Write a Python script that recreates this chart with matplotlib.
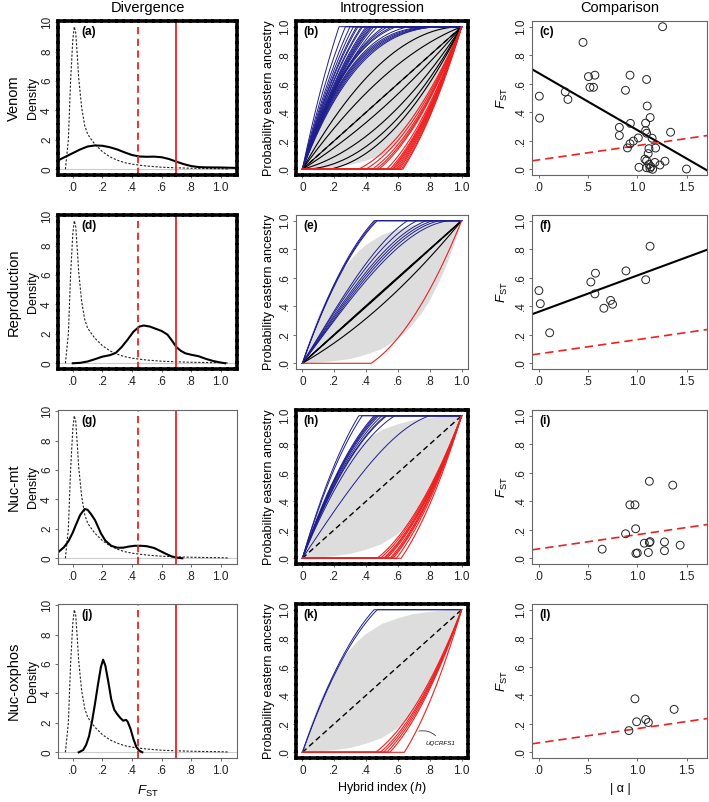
import numpy as np
import matplotlib.pyplot as plt

plt.rcParams['font.family'] = ['Liberation Sans', 'DejaVu Sans']
plt.rcParams['mathtext.fontset'] = 'custom'
plt.rcParams['mathtext.rm'] = 'Liberation Sans'
plt.rcParams['mathtext.it'] = 'Liberation Sans:italic'

# --- Divergence: density of FST ---
gw_x = [-0.05, -0.03, -0.015, 0.0, 0.01, 0.02, 0.03, 0.04, 0.06, 0.08, 0.10, 0.12,
        0.15, 0.20, 0.25, 0.30, 0.35, 0.40, 0.45, 0.50, 0.60, 0.70, 0.80, 0.90, 1.00, 1.05]
gw_y = [0.0, 2.0, 6.0, 8.8, 9.7, 9.3, 7.8, 6.2, 4.2, 3.0, 2.4, 2.1,
        1.7, 1.2, 0.85, 0.62, 0.45, 0.35, 0.28, 0.22, 0.14, 0.10, 0.07, 0.05, 0.04, 0.02]

venom_x = [-0.10, -0.05, 0.0, 0.05, 0.10, 0.15, 0.20, 0.25, 0.30, 0.35, 0.40, 0.45,
           0.50, 0.55, 0.60, 0.65, 0.70, 0.75, 0.80, 0.85, 0.90, 1.00, 1.11]
venom_y = [0.6, 0.85, 1.1, 1.35, 1.55, 1.62, 1.6, 1.5, 1.35, 1.15, 0.97, 0.87,
           0.85, 0.86, 0.82, 0.7, 0.52, 0.35, 0.22, 0.15, 0.13, 0.12, 0.09]

repro_x = [0.0, 0.05, 0.10, 0.15, 0.20, 0.25, 0.29, 0.33, 0.37, 0.41, 0.45, 0.48, 0.52,
           0.56, 0.60, 0.64, 0.67, 0.70, 0.73, 0.76, 0.80, 0.85, 0.90, 0.95, 1.00, 1.03]
repro_y = [0.0, 0.03, 0.12, 0.28, 0.45, 0.55, 0.7, 1.1, 1.6, 2.15, 2.5, 2.57, 2.5,
           2.35, 2.2, 1.95, 1.55, 1.1, 0.85, 0.68, 0.58, 0.48, 0.3, 0.15, 0.05, 0.0]

nucmt_x = [-0.10, -0.06, -0.03, 0.0, 0.02, 0.05, 0.08, 0.10, 0.12, 0.15, 0.19, 0.22, 0.26,
           0.30, 0.34, 0.38, 0.42, 0.46, 0.50, 0.55, 0.59, 0.63, 0.67, 0.70, 0.74]
nucmt_y = [0.4, 0.75, 1.15, 1.75, 2.25, 2.95, 3.35, 3.3, 3.05, 2.6, 1.7, 1.2, 0.85,
           0.72, 0.72, 0.8, 0.85, 0.85, 0.82, 0.7, 0.5, 0.3, 0.12, 0.05, 0.0]

oxphos_x = [0.04, 0.07, 0.09, 0.11, 0.13, 0.15, 0.17, 0.19, 0.205, 0.22, 0.24, 0.26,
            0.28, 0.30, 0.32, 0.34, 0.36, 0.37, 0.39, 0.41, 0.43, 0.45, 0.47]
oxphos_y = [0.0, 0.15, 0.5, 1.1, 2.1, 3.3, 4.6, 5.8, 6.3, 5.9, 4.8, 3.6,
            2.9, 2.6, 2.35, 2.15, 2.2, 2.1, 1.6, 0.9, 0.35, 0.1, 0.0]

fst_outlier = 0.44   # red dashed
fst_mito = 0.70      # red solid

# --- Introgression: neutral envelope and cline parameters (alpha, beta) ---
env_up_x = [0.0, 0.02, 0.05, 0.10, 0.15, 0.20, 0.25, 0.30, 0.35, 0.40, 0.50, 0.60, 0.70, 0.80, 0.90, 1.0]
env_up_y = [0.0, 0.08, 0.18, 0.33, 0.45, 0.56, 0.65, 0.72, 0.78, 0.83, 0.90, 0.94, 0.97, 0.985, 0.995, 1.0]
env_lo_x = [0.0, 0.10, 0.20, 0.30, 0.40, 0.50, 0.60, 0.65, 0.70, 0.75, 0.80, 0.85, 0.90, 0.95, 0.98, 1.0]
env_lo_y = [0.0, 0.005, 0.015, 0.03, 0.06, 0.10, 0.17, 0.22, 0.28, 0.35, 0.44, 0.55, 0.67, 0.82, 0.92, 1.0]

venom_blue_a = [2.17, 1.85, 1.67, 1.56, 1.47, 1.43, 1.35, 1.32, 1.25, 1.22, 1.19, 1.16,
                1.14, 1.11, 1.06, 0.98, 0.95, 0.92, 0.90, 0.85, 0.78, 0.76, 0.80, 0.74, 0.82]
venom_blue_b = [0, 0, 0, 0, 0, 0, 0, 0, 0, 0, 0, 0,
                0, 0, 0, -0.2, -0.25, -0.28, -0.3, -0.3, -0.28, -0.25, -0.30, -0.22, -0.32]
venom_black_a = [0.5, 0.28, 0.0, -0.15, -0.35, -0.5, -0.6]
venom_red_a = [-0.77, -0.83, -0.89, -0.93, -0.96, -1.06, -1.11, -1.14, -1.16, -1.19,
               -1.22, -1.25, -1.28, -1.32, -1.35]

repro_blue_a = [1.11, 1.087, 1.064, 0.676, 0.604, 0.537, 0.494, 0.453, 0.407]
repro_blue_b = [0, 0, 0, 0.255, 0.206, 0.186, 0.181, 0.179, 0.162]
repro_black_a = [0.0, 0.01, -0.01, -0.18]
repro_red_a = [-0.88]

nucmt_blue_a = [1.41, 1.33, 1.11, 1.087, 1.064, 1.04, 1.0, 0.96, 0.943, 0.862, 0.516]
nucmt_blue_b = [0, 0, 0, 0, 0, 0, 0, 0, 0, 0, 0.18]
nucmt_red_a = [-0.943, -0.98, -1.02, -1.04, -1.064, -1.11, -1.136, -1.163, -1.22, -1.316]

oxphos_blue_a = [1.11, 1.064]
oxphos_red_a = [-0.926, -0.98, -1.02, -1.064, -1.11, -1.389]

# --- Comparison: |alpha| vs FST ---
venom_alpha = [0.007, 0.01, 0.27, 0.297, 0.45, 1.256, 0.505, 0.57, 0.52, 0.556, 0.926, 1.094,
               0.88, 1.10, 1.13, 1.084, 0.93, 0.818, 0.818, 1.084, 1.094, 1.337, 1.15, 0.926,
               0.96, 1.01, 0.90, 1.118, 1.185, 1.077, 1.094, 1.11, 1.118, 1.138, 1.155, 1.094,
               1.178, 1.229, 1.28, 1.017, 1.498, 1.128]
venom_fst = [0.513, 0.359, 0.543, 0.49, 0.89, 1.0, 0.65, 0.66, 0.575, 0.575, 0.66, 0.63,
             0.554, 0.444, 0.363, 0.324, 0.322, 0.294, 0.237, 0.271, 0.253, 0.26, 0.218, 0.179,
             0.198, 0.22, 0.15, 0.145, 0.149, 0.071, 0.06, 0.11, 0.034, 0.018, 0.0, 0.011,
             0.048, 0.03, 0.057, 0.014, 0.002, 0.007]
repro_alpha = [0.003, 0.017, 0.112, 0.529, 0.576, 0.57, 0.661, 0.729, 0.749, 0.885, 1.085, 1.129]
repro_fst = [0.51, 0.418, 0.214, 0.57, 0.632, 0.487, 0.386, 0.441, 0.414, 0.648, 0.586, 0.821]
nucmt_alpha = [0.644, 0.881, 0.925, 0.976, 0.983, 0.986, 1.0, 1.071, 1.112, 1.122, 1.129,
               1.122, 1.275, 1.275, 1.359, 1.434]
nucmt_fst = [0.064, 0.172, 0.375, 0.375, 0.207, 0.034, 0.037, 0.106, 0.041, 0.11, 0.117,
             0.54, 0.115, 0.053, 0.513, 0.092]
oxphos_alpha = [0.915, 0.976, 0.993, 1.085, 1.112, 1.373]
oxphos_fst = [0.152, 0.375, 0.214, 0.23, 0.209, 0.301]

venom_fit = (0.675, -0.40)
repro_fit = (0.361, 0.255)
null_fit = (0.066, 0.10)

row_names = ['Venom', 'Reproduction', 'Nuc-mt', 'Nuc-oxphos']
letters = ['a', 'b', 'c', 'd', 'e', 'f', 'g', 'h', 'i', 'j', 'k', 'l']
dashed_box = {'a', 'b', 'd', 'h', 'k'}

W, H = 709, 802
fig = plt.figure(figsize=(W / 100, H / 100), dpi=100)

def rect(x0, x1, top, hgt):
    return [x0 / W, 1 - (top + hgt) / H, (x1 - x0) / W, hgt / H]

row_tops = [21, 215, 410, 604]
row_h = 154
cols = [(58, 237), (296, 468), (532, 707)]

h = np.linspace(0, 1, 301)

def cline(a, b=0.0):
    return np.clip(h + 2 * (h - h ** 2) * (a + b * (2 * h - 1)), 0, 1)

def style(ax, letter, lx):
    ax.tick_params(direction='out', length=2.5, width=0.6, color='#555',
                   labelsize=8.5, labelcolor='#222')
    ax.tick_params(axis='x', pad=2.5)
    ax.tick_params(axis='y', pad=1.0, labelrotation=90)
    for lb in ax.get_yticklabels():
        lb.set_va('center')
    if letter in dashed_box:
        for sp in ax.spines.values():
            sp.set_linestyle((0, (1.6, 0.45)))
            sp.set_linewidth(2.6)
            sp.set_color('black')
    else:
        for sp in ax.spines.values():
            sp.set_linewidth(0.8)
            sp.set_color('#666')
    ax.text(lx, 0.93, '(' + letter + ')', transform=ax.transAxes,
            fontsize=8.5, fontweight='bold', va='center', ha='left')

dens = [(venom_x, venom_y), (repro_x, repro_y), (nucmt_x, nucmt_y), (oxphos_x, oxphos_y)]
clines = [
    (venom_blue_a, venom_blue_b, venom_black_a, venom_red_a),
    (repro_blue_a, repro_blue_b, repro_black_a, repro_red_a),
    (nucmt_blue_a, nucmt_blue_b, [], nucmt_red_a),
    (oxphos_blue_a, [0] * len(oxphos_blue_a), [], oxphos_red_a),
]
scat = [(venom_alpha, venom_fst), (repro_alpha, repro_fst),
        (nucmt_alpha, nucmt_fst), (oxphos_alpha, oxphos_fst)]
fits = [venom_fit, repro_fit, None, None]

blue = '#1f1f8c'
red = '#ee2020'

for r in range(4):
    top = row_tops[r]
    # divergence
    ax = fig.add_axes(rect(cols[0][0], cols[0][1], top, row_h))
    ax.axhline(0, color='#cccccc', lw=0.8, zorder=1)
    ax.plot(gw_x, gw_y, color='#222', lw=0.8, ls=(0, (2, 1.5)))
    ax.plot(dens[r][0], dens[r][1], color='black', lw=1.5)
    ax.axvline(fst_outlier, color=red, lw=1.3, ls=(0, (4, 2.5)))
    ax.axvline(fst_mito, color=red, lw=1.3)
    ax.set_xlim(-0.1, 1.11)
    ax.set_ylim(-0.39, 10.09)
    ax.set_xticks([0, 0.2, 0.4, 0.6, 0.8, 1.0])
    ax.set_xticklabels(['.0', '.2', '.4', '.6', '.8', '1.0'])
    ax.set_yticks([0, 2, 4, 6, 8, 10])
    style(ax, letters[3 * r], 0.13)
    ymid = 1 - (top + row_h / 2) / H
    fig.text(14 / W, ymid, row_names[r], rotation=90, fontsize=10.5, ha='center', va='center')
    fig.text(33 / W, ymid, 'Density', rotation=90, fontsize=9, ha='center', va='center')

    # introgression
    ax = fig.add_axes(rect(cols[1][0], cols[1][1], top, row_h))
    ax.fill(env_up_x + env_lo_x[::-1], env_up_y + env_lo_y[::-1],
            color='#dddddd', lw=0, zorder=1)
    ba, bb, ka, ra = clines[r]
    for a in ka:
        ax.plot(h, cline(a), color='black', lw=0.8, zorder=2)
    ax.plot([0, 1], [0, 1], color='black', lw=1.0, ls=(0, (4, 2.5)), zorder=3)
    for a, b in zip(ba, bb):
        ax.plot(h, cline(a, b), color=blue, lw=0.7, zorder=4)
    for a in ra:
        ax.plot(h, cline(a), color=red, lw=0.8, zorder=4)
    ax.set_xlim(-0.04, 1.04)
    ax.set_ylim(-0.04, 1.04)
    ax.set_xticks([0, 0.2, 0.4, 0.6, 0.8, 1.0])
    ax.set_xticklabels(['0', '.2', '.4', '.6', '.8', '1.0'])
    ax.set_yticks([0, 0.2, 0.4, 0.6, 0.8, 1.0])
    ax.set_yticklabels(['.0', '.2', '.4', '.6', '.8', '1.0'])
    style(ax, letters[3 * r + 1], 0.04)
    ax.set_ylabel('Probability eastern ancestry', fontsize=9, labelpad=3)
    if r == 3:
        hx = 0.715
        ax.annotate('UQCRFS1', xy=(hx, float(cline(oxphos_red_a[-1])[int(hx * 300)])),
                    xytext=(0.775, 0.065), fontsize=4.5, style='italic', va='center',
                    arrowprops=dict(arrowstyle='-', lw=0.6, color='#333',
                                    connectionstyle='arc3,rad=0.4'))

    # comparison
    ax = fig.add_axes(rect(cols[2][0], cols[2][1], top, row_h))
    ax.scatter(scat[r][0], scat[r][1], s=32, facecolors='none', edgecolors='#222',
               linewidths=0.7, zorder=3)
    if fits[r] is not None:
        ax.axline((0, fits[r][0]), slope=fits[r][1], color='black', lw=1.5)
    ax.axline((0, null_fit[0]), slope=null_fit[1], color=red, lw=1.2, ls=(0, (5, 3)))
    ax.set_xlim(-0.067, 1.706)
    ax.set_ylim(-0.04, 1.04)
    ax.set_xticks([0, 0.5, 1.0, 1.5])
    ax.set_xticklabels(['.0', '.5', '1.0', '1.5'])
    ax.set_yticks([0, 0.2, 0.4, 0.6, 0.8, 1.0])
    ax.set_yticklabels(['.0', '.2', '.4', '.6', '.8', '1.0'])
    style(ax, letters[3 * r + 2], 0.04)
    ax.set_ylabel(r'$F_{\rm ST}$', fontsize=9.5, labelpad=4)

# column titles
for (x0, x1), t in zip(cols, ['Divergence', 'Introgression', 'Comparison']):
    fig.text((x0 + x1) / 2 / W, 1 - 8 / H, t, fontsize=10.5, ha='center', va='center')

# bottom labels
fig.text(148 / W, 1 - 791 / H, r'$F_{\rm ST}$', fontsize=9.5, ha='center', va='center')
fig.text(382 / W, 1 - 788 / H, r'Hybrid index ($h$)', fontsize=9, ha='center', va='center')
fig.text(620 / W, 1 - 789 / H, '| α |', fontsize=9, ha='center', va='center')

fig.savefig('out.png', dpi=100)
